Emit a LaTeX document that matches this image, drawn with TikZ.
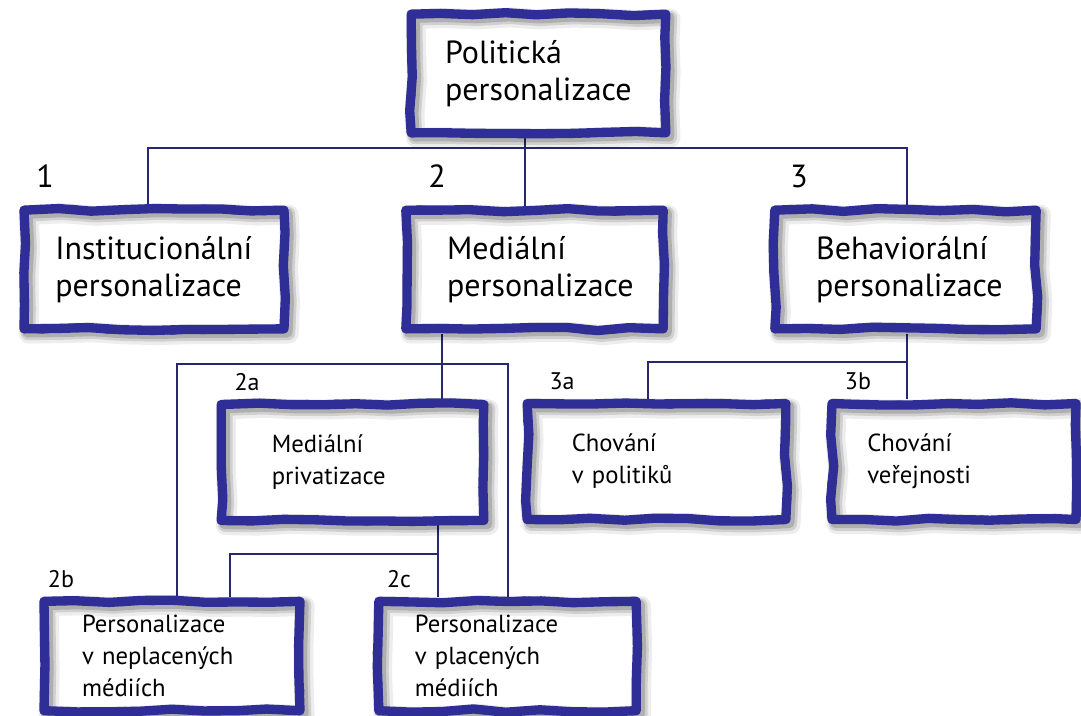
\documentclass[tikz,border=0pt]{standalone}
\usepackage{fontspec}
\setmainfont{PT Sans}
\usetikzlibrary{decorations.pathmorphing,shadows,backgrounds}
\definecolor{boxblue}{RGB}{46,46,150}
\definecolor{linenavy}{RGB}{40,40,110}

\begin{document}
\begin{tikzpicture}[x=0.75pt,y=-0.75pt,
  wavy/.style={draw=boxblue,line width=7pt,line join=round,decorate,
    decoration={random steps,segment length=24pt,amplitude=1.3pt},
    align=left,inner sep=0pt,
    general shadow={draw=black,line width=15pt,opacity=0.07,shadow xshift=3.5pt,shadow yshift=-3.5pt},
    general shadow={draw=black,line width=11pt,opacity=0.12,shadow xshift=3pt,shadow yshift=-3pt},
    general shadow={draw=black,line width=8pt,opacity=0.16,shadow xshift=2.5pt,shadow yshift=-2.5pt},
    postaction={draw=boxblue,line width=4.5pt,line join=round,decorate,decoration={random steps,segment length=14pt,amplitude=1.5pt}}},
  big/.style={wavy,minimum height=89pt,font=\fontsize{24}{27.5}\selectfont},
  small/.style={wavy,minimum height=87pt,font=\fontsize{18.5}{24}\selectfont},
  num/.style={font=\fontsize{24}{28}\selectfont,inner sep=0pt},
  subnum/.style={font=\fontsize{18}{22}\selectfont,inner sep=0pt},
  link/.style={draw=linenavy,line width=0.9pt}]
\pgfmathsetseed{11}
\useasboundingbox (0,0) rectangle (1081,715);
%%%%%%%%%%%%%%%% boxes
\node[big,minimum width=191pt,text width=140pt] (pol) at (538.5,73.5) {Politická\\personalizace};
\node[big,minimum width=195pt,text width=148pt] (inst) at (154,269.5) {Institucionální\\personalizace};
\node[big,minimum width=193pt,text width=131pt] (med) at (534.5,269.5) {Mediální\\personalizace};
\node[big,minimum width=196pt,text width=134pt] (beh) at (905.5,269.5) {Behaviorální\\personalizace};
\node[small,minimum width=197pt,text width=121pt] (medpriv) at (352.5,462.5) {Mediální\\privatizace};
\node[small,minimum width=194pt,text width=127pt] (chpol) at (656.5,461.5) {Chování\\v politiků};
\node[small,minimum width=183pt,text width=130pt] (chver) at (954,461.5) {Chování\\veřejnosti};
\node[small,minimum width=192pt,minimum height=82pt,text width=135pt] (neplac) at (172,656) {Personalizace\\v neplacených\\médiích};
\node[small,minimum width=193pt,minimum height=82pt,text width=139pt] (plac) at (507.5,656) {Personalizace\\v placených\\médiích};
%%%%%%%%%%%%%%%% numbers
\node[num] (n1) at (45,176) {1};
\node[num] (n2) at (437,176) {2};
\node[num] (n3) at (799,176) {3};
\node[subnum] (n2a) at (247,382) {2a};
\node[subnum] (n3a) at (562,381) {3a};
\node[subnum] (n3b) at (858,381) {3b};
\node[subnum] (n2b) at (61,579) {2b};
\node[subnum] (n2c) at (399,579) {2c};
%%%%%%%%%%%%%%%% connectors
\coordinate (t0) at (525,148);
\coordinate (t1) at (148,148);
\coordinate (t3) at (907,148);
\coordinate (m0) at (442,364);
\coordinate (m1) at (177,364);
\coordinate (m2) at (508,364);
\coordinate (p0) at (438,554);
\coordinate (p1) at (230,554);
\coordinate (b0) at (907,362);
\coordinate (b1) at (648,362);
\begin{scope}[on background layer]
\draw[link] (t0 |- pol.south) -- (t0 |- med.north);
\draw[link] (t1 |- inst.north) -- (t1) -- (t3) -- (t3 |- beh.north);
\draw[link] (m0 |- med.south) -- (m0 |- medpriv.north);
\draw[link] (m1 |- neplac.north) -- (m1) -- (m2) -- (m2 |- plac.north);
\draw[link] (p0 |- medpriv.south) -- (p0 |- plac.north);
\draw[link] (p1 |- neplac.north) -- (p1) -- (p0);
\draw[link] (b0 |- beh.south) -- (b0 |- chver.north);
\draw[link] (b1 |- chpol.north) -- (b1) -- (b0);
\end{scope}
\end{tikzpicture}
\end{document}
